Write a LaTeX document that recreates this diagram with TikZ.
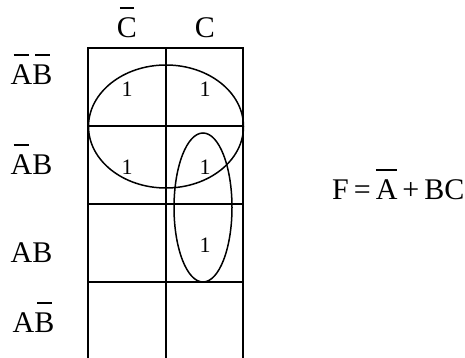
\documentclass[tikz,border=0pt]{standalone}
\usepackage{fontspec}
\setmainfont{Liberation Serif}
\usepackage{tikz}
\tikzset{
  grid/.style  ={draw=black, line width=2pt},
  loop/.style  ={draw=black, line width=1.5pt},
  varlbl/.style={anchor=base, inner sep=0pt, font=\fontsize{30}{30}\selectfont},
  one/.style   ={anchor=base, inner sep=0pt, font=\fontsize{22}{22}\selectfont},
  eqn/.style   ={anchor=base west, inner sep=0pt, font=\fontsize{30}{30}\selectfont},
}
\newcommand{\nbar}[2][0.72]{\setbox0=\hbox{#2}%
  \rlap{\hbox to\wd0{\hss\rule[0.96em]{#1\wd0}{0.06em}\hss}}\box0}

\begin{document}
\begin{tikzpicture}[x=1pt, y=1pt]
  \useasboundingbox (0,0) rectangle (465,358);

  % map (bottom edge falls outside the page)
  \draw[grid] (88,0) -- (88,310) -- (243,310) -- (243,0);
  \draw[grid] (166,0) -- (166,310);
  \foreach \y in {232,154,76}
    \draw[grid] (88,\y) -- (243,\y);

  % column and row variables
  \node[varlbl] (cbar) at (127,320) {\nbar{C}};
  \node[varlbl] (c)    at (205,320) {C};
  \node[varlbl] (r00) at (31.5,273) {\nbar{A}\nbar{B}};
  \node[varlbl] (r01) at (31.5,183) {\nbar{A}B};
  \node[varlbl] (r11) at (31.5,95)  {AB};
  \node[varlbl] (r10) at (33.5,25)  {A\nbar{B}};

  % minterms
  \node[one] (m0) at (127,261) {1};
  \node[one] (m1) at (205,261) {1};
  \node[one] (m2) at (127,183) {1};
  \node[one] (m3) at (205,183) {1};
  \node[one] (m7) at (205,105) {1};

  % groups
  \draw[loop] (166,231.5) ellipse [x radius=77.5, y radius=61.5];
  \draw[loop] (203,150.5) ellipse [x radius=29, y radius=74.5];

  \node[eqn] (f) at (332,158) {F\,=\,\nbar[1]{A}\,+\,BC};
\end{tikzpicture}
\end{document}
